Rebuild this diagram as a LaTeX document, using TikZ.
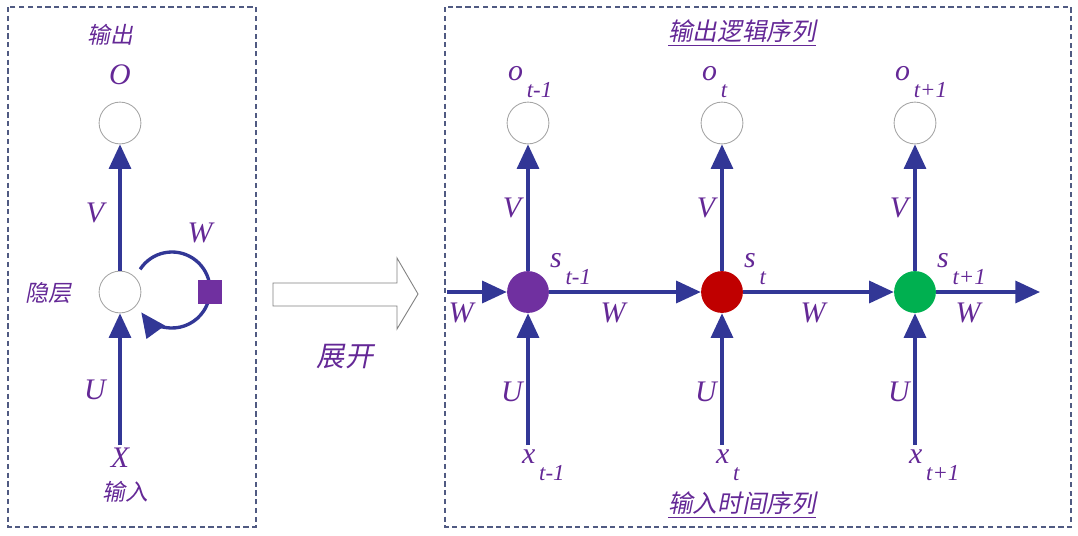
\documentclass[tikz,border=0pt]{standalone}
\usepackage{fontspec}
\setmainfont{Liberation Serif}
\newfontfamily\cjk[FakeSlant=0.2]{Noto Sans CJK SC}
\usetikzlibrary{arrows.meta}

\definecolor{rnnblue}{RGB}{50,55,150}
\definecolor{rnntext}{RGB}{100,40,150}
\definecolor{rnnpurple}{RGB}{112,48,160}
\definecolor{rnnred}{RGB}{192,0,0}
\definecolor{rnngreen}{RGB}{0,176,80}
\definecolor{rnnframe}{RGB}{80,90,130}

\newcommand{\seqsub}[2]{#1\raisebox{-10pt}{\fontsize{13}{13}\selectfont\,#2}}

\tikzset{
  dashbox/.style={rnnframe, line width=0.6pt, dash pattern=on 3pt off 2pt},
  flow/.style={rnnblue, line width=1.9pt, -{Triangle[length=14pt,width=12.5pt]}},
  cell/.style={circle, draw=gray!70, line width=0.5pt, minimum size=23.8pt, inner sep=0pt},
  hidcell/.style={circle, minimum size=23.8pt, inner sep=0pt},
  lab/.style={rnntext, font=\fontsize{17}{20}\selectfont\itshape, inner sep=1pt},
  cn/.style={rnntext, font=\fontsize{13}{15}\selectfont\cjk, inner sep=1pt},
}

\begin{document}
\begin{tikzpicture}[x=0.02cm, y=-0.02cm]
    \useasboundingbox (0,0) rectangle (1078,535);
    % Frames
    \draw[dashbox] (8,7) rectangle (256,527);
    \draw[dashbox] (445,7) rectangle (1071,527);

    % Folded network
    \node[cell] (o) at (120,123) {};
    \node[cell] (h) at (120,292) {};
    \coordinate (xin) at (120,445);
    \draw[flow] (h) -- (o);
    \draw[flow] (xin) -- (h);
    \coordinate (lc) at (172,290);
    \draw[flow] ([shift={(-147:38)}]lc) arc[start angle=-147, end angle=144, radius=38];
    \node[fill=rnnpurple, minimum size=13.6pt, inner sep=0pt] (wbox) at (210,292) {};
    \node[cn] (tout) at (110,35) {输出};
    \node[lab] (lo) at (120,75) {O};
    \node[lab] (lv) at (95,213) {V};
    \node[lab] (lw) at (200,233) {W};
    \node[cn] (thid) at (48,293) {隐层};
    \node[lab] (lu) at (95,390) {U};
    \node[lab] (lx) at (120,458) {X};
    \node[cn] (tin) at (125,492) {输入};

    % Unfold arrow
    \draw[gray, line width=0.5pt] (273,283) -- (397,283) -- (397,258) -- (418,294)
        -- (397,329) -- (397,306) -- (273,306) -- cycle;
    \node[cn, font=\fontsize{16}{18}\selectfont\cjk] (tunf) at (345,357) {展开};

    % Unfolded network
    \foreach \i/\x/\c/\tl in {1/528/rnnpurple/t-1, 2/722/rnnred/t, 3/915/rnngreen/t+1} {
        \node[cell] (o\i) at (\x,123) {};
        \node[hidcell, fill=\c] (s\i) at (\x,292) {};
        \coordinate (x\i) at (\x,445);
        \draw[flow] (s\i) -- (o\i);
        \draw[flow] (x\i) -- (s\i);
        \node[lab] (lv\i) at (\x-16,208) {V};
        \node[lab] (lu\i) at (\x-16,392) {U};
        \node[lab, anchor=base west] (lo\i) at (\x-22,80) {\seqsub{o}{\tl}};
        \node[lab, anchor=base west] (ls\i) at (\x+20,267) {\seqsub{s}{\tl}};
        \node[lab, anchor=base west] (lx\i) at (\x-8,463) {\seqsub{x}{\tl}};
    }
    \coordinate (win) at (447,292);
    \coordinate (wout) at (1040,292);
    \draw[flow] (win) -- (s1);
    \draw[flow] (s1) -- (s2);
    \draw[flow] (s2) -- (s3);
    \draw[flow] (s3) -- (wout);
    \node[lab] (lw0) at (461,313) {W};
    \node[lab] (lw1) at (613,313) {W};
    \node[lab] (lw2) at (813,313) {W};
    \node[lab] (lw3) at (968,313) {W};

    % Titles
    \node[cn, font=\fontsize{14}{16}\selectfont\cjk] (ttop) at (742,33) {\underline{输出逻辑序列}};
    \node[cn, font=\fontsize{14}{16}\selectfont\cjk] (tbot) at (742,505) {\underline{输入时间序列}};
\end{tikzpicture}
\end{document}
